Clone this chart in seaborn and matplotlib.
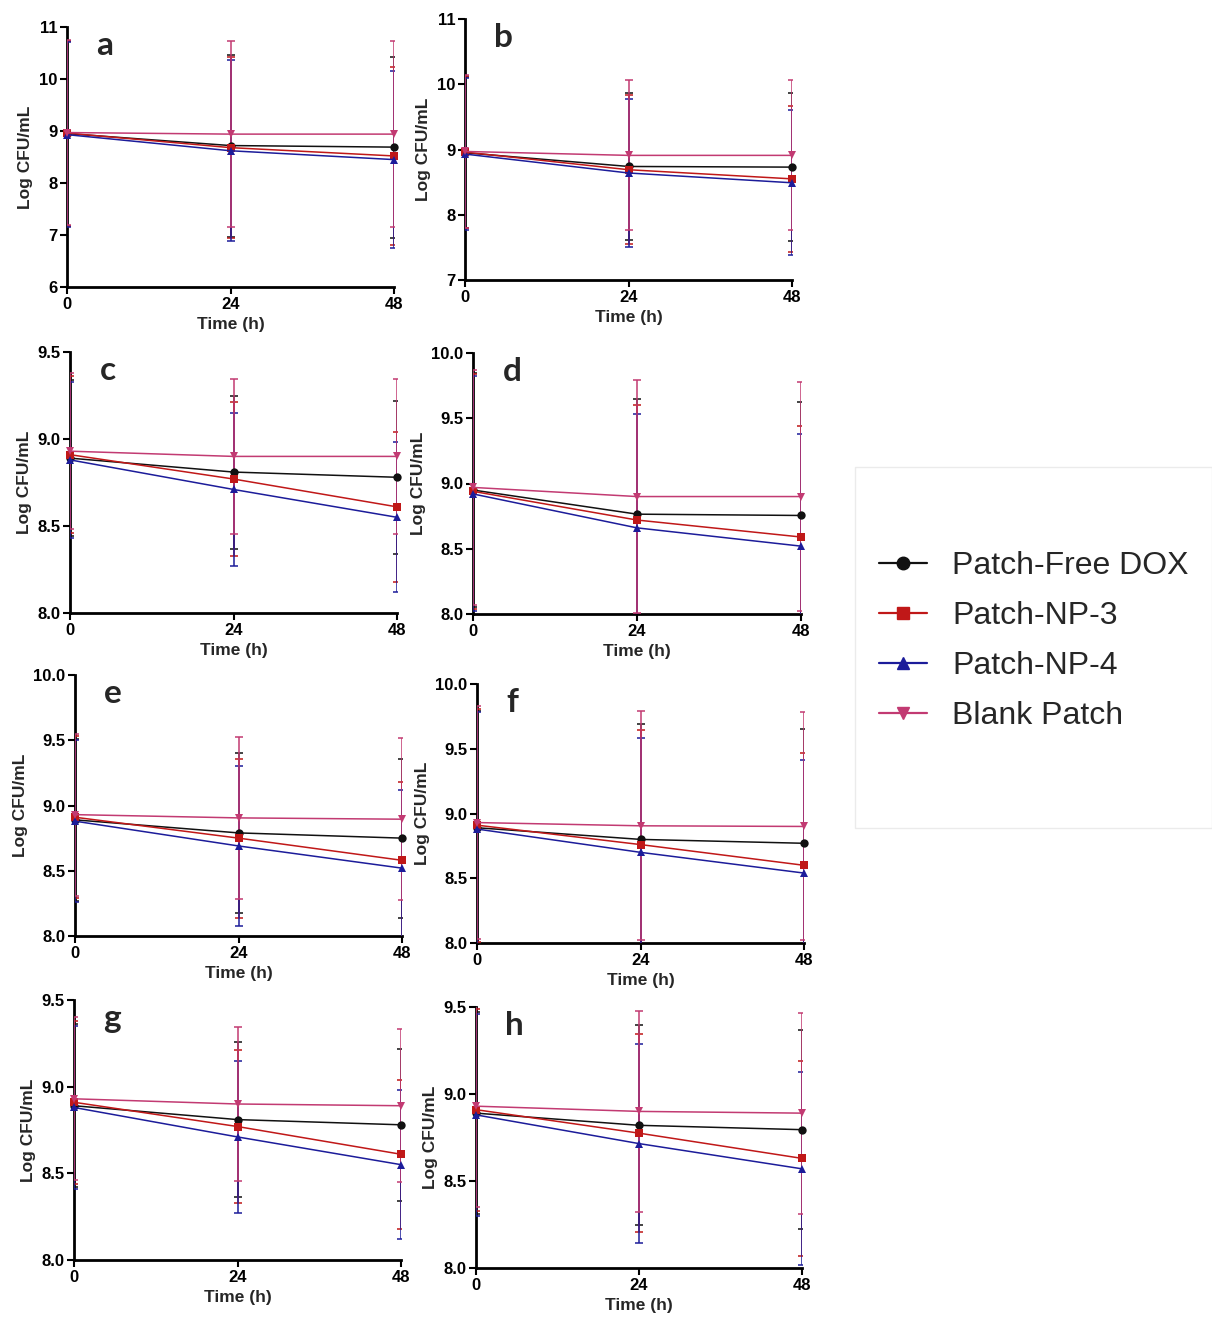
import numpy as np
import pandas as pd
import seaborn as sns
import matplotlib.pyplot as plt
from matplotlib.lines import Line2D
from matplotlib.patches import Rectangle

times = [0, 24, 48]
groups = ["Patch-Free DOX", "Patch-NP-3", "Patch-NP-4", "Blank Patch"]
panel_letters = ["a", "b", "c", "d", "e", "f", "g", "h"]

# mean Log CFU/mL for panels a-h at 0, 24, 48 h
free_dox_mean = [[8.95, 8.72, 8.69], [8.95, 8.74, 8.73], [8.89, 8.81, 8.78], [8.95, 8.765, 8.755],
                 [8.89, 8.79, 8.75], [8.89, 8.80, 8.77], [8.89, 8.81, 8.78], [8.89, 8.82, 8.795]]
np3_mean = [[8.96, 8.68, 8.52], [8.96, 8.69, 8.55], [8.91, 8.77, 8.61], [8.94, 8.72, 8.59],
            [8.91, 8.75, 8.58], [8.91, 8.76, 8.60], [8.91, 8.77, 8.61], [8.91, 8.775, 8.63]]
np4_mean = [[8.93, 8.62, 8.45], [8.93, 8.64, 8.49], [8.88, 8.71, 8.55], [8.92, 8.66, 8.52],
            [8.88, 8.69, 8.52], [8.88, 8.70, 8.54], [8.88, 8.71, 8.55], [8.88, 8.715, 8.57]]
blank_mean = [[8.97, 8.94, 8.94], [8.97, 8.91, 8.91], [8.93, 8.90, 8.90], [8.97, 8.90, 8.90],
              [8.93, 8.905, 8.895], [8.93, 8.905, 8.90], [8.93, 8.90, 8.89], [8.93, 8.90, 8.89]]

# standard deviations
free_dox_sd = [[1.78, 1.75, 1.74], [1.16, 1.13, 1.13], [0.45, 0.44, 0.44], [0.90, 0.88, 0.87],
               [0.62, 0.61, 0.61], [0.90, 0.89, 0.88], [0.47, 0.445, 0.44], [0.58, 0.575, 0.573]]
np3_sd = [[1.78, 1.74, 1.71], [1.16, 1.14, 1.12], [0.45, 0.44, 0.43], [0.90, 0.88, 0.85],
          [0.62, 0.61, 0.60], [0.90, 0.885, 0.865], [0.47, 0.44, 0.43], [0.58, 0.57, 0.56]]
np4_sd = [[1.78, 1.74, 1.70], [1.17, 1.13, 1.11], [0.45, 0.44, 0.43], [0.90, 0.87, 0.86],
          [0.62, 0.61, 0.60], [0.90, 0.88, 0.87], [0.47, 0.44, 0.43], [0.58, 0.57, 0.555]]
blank_sd = [[1.78, 1.79, 1.79], [1.17, 1.15, 1.15], [0.45, 0.445, 0.445], [0.90, 0.89, 0.88],
            [0.62, 0.62, 0.62], [0.90, 0.885, 0.88], [0.47, 0.445, 0.44], [0.58, 0.577, 0.578]]

y_limits = [(6, 11), (7, 11), (8, 9.5), (8, 10), (8, 10), (8, 10), (8, 9.5), (8, 9.5)]
y_steps = [1, 1, 0.5, 0.5, 0.5, 0.5, 0.5, 0.5]

means = [free_dox_mean, np3_mean, np4_mean, blank_mean]
sds = [free_dox_sd, np3_sd, np4_sd, blank_sd]

palette = {"Patch-Free DOX": "#111111", "Patch-NP-3": "#c01818",
           "Patch-NP-4": "#1c1c9a", "Blank Patch": "#c23a72"}
markers = {"Patch-Free DOX": "o", "Patch-NP-3": "s",
           "Patch-NP-4": "^", "Blank Patch": "v"}

# axes boxes in pixels: left, right, top, bottom
boxes = [(67, 394, 27, 287), (465, 792, 19, 280),
         (70, 397, 352, 613), (473, 801, 353, 614),
         (75, 402, 675, 936), (477, 804, 684, 943),
         (74, 401, 1000, 1260), (476, 802, 1007, 1268)]

W, H = 1212, 1320

sns.set_theme(style="ticks")
plt.rcParams["font.family"] = ["Liberation Sans", "DejaVu Sans"]

fig = plt.figure(figsize=(W / 100, H / 100), dpi=100)

for i, letter in enumerate(panel_letters):
    l, r, t, b = boxes[i]
    ax = fig.add_axes([l / W, 1 - b / H, (r - l) / W, (b - t) / H])

    rows = []
    for g, m in zip(groups, means):
        for tt, v in zip(times, m[i]):
            rows.append({"time": tt, "value": v, "group": g})
    df = pd.DataFrame(rows)

    sns.lineplot(data=df, x="time", y="value", hue="group", style="group",
                 hue_order=groups, style_order=groups, palette=palette,
                 markers=markers, dashes=False, markersize=6,
                 markeredgewidth=0, linewidth=1.1, legend=False,
                 errorbar=None, ax=ax, zorder=5)
    for line in ax.lines:
        line.set_clip_on(False)

    for g, m, s in zip(groups, means, sds):
        ax.errorbar(times, m[i], yerr=s[i], fmt="none", ecolor=palette[g],
                    elinewidth=1.1, capsize=3, capthick=1.1, zorder=4)

    lo, hi = y_limits[i]
    ax.set_xlim(0, 48)
    ax.set_ylim(lo, hi)
    ax.set_xticks(times)
    yt = np.arange(lo, hi + 1e-9, y_steps[i])
    ax.set_yticks(yt)
    if y_steps[i] == 1:
        ax.set_yticklabels([f"{v:.0f}" for v in yt])
    else:
        ax.set_yticklabels([f"{v:.1f}" for v in yt])

    sns.despine(ax=ax)
    for sp in ["left", "bottom"]:
        ax.spines[sp].set_linewidth(2)
        ax.spines[sp].set_color("black")
    ax.tick_params(axis="both", direction="out", length=5, width=1.5,
                   labelsize=12, pad=2, colors="black")
    for lab in ax.get_xticklabels() + ax.get_yticklabels():
        lab.set_fontweight("bold")

    ax.set_xlabel("Time (h)", fontsize=12.5, fontweight="bold", labelpad=4)
    ax.set_ylabel("Log CFU/mL", fontsize=12.5, fontweight="bold", labelpad=4)
    ax.text(0.09, 0.93, letter, transform=ax.transAxes, fontsize=24,
            fontweight="bold", family=["Lato", "DejaVu Sans"],
            ha="left", va="center")

# legend block on the right
fig.patches.append(Rectangle((855 / W, 1 - 828 / H), (W - 855) / W, (828 - 467) / H,
                             transform=fig.transFigure, fill=False,
                             edgecolor="#ebebeb", linewidth=1))
handles = [Line2D([0], [0], color=palette[g], marker=markers[g], markersize=9,
                  linewidth=1.6) for g in groups]
fig.legend(handles, groups, loc="center left",
           bbox_to_anchor=(850 / W, 1 - 641 / H), frameon=False,
           fontsize=23, handlelength=1.5, handletextpad=0.8, labelspacing=0.62)

fig.savefig("out.png", dpi=100)
